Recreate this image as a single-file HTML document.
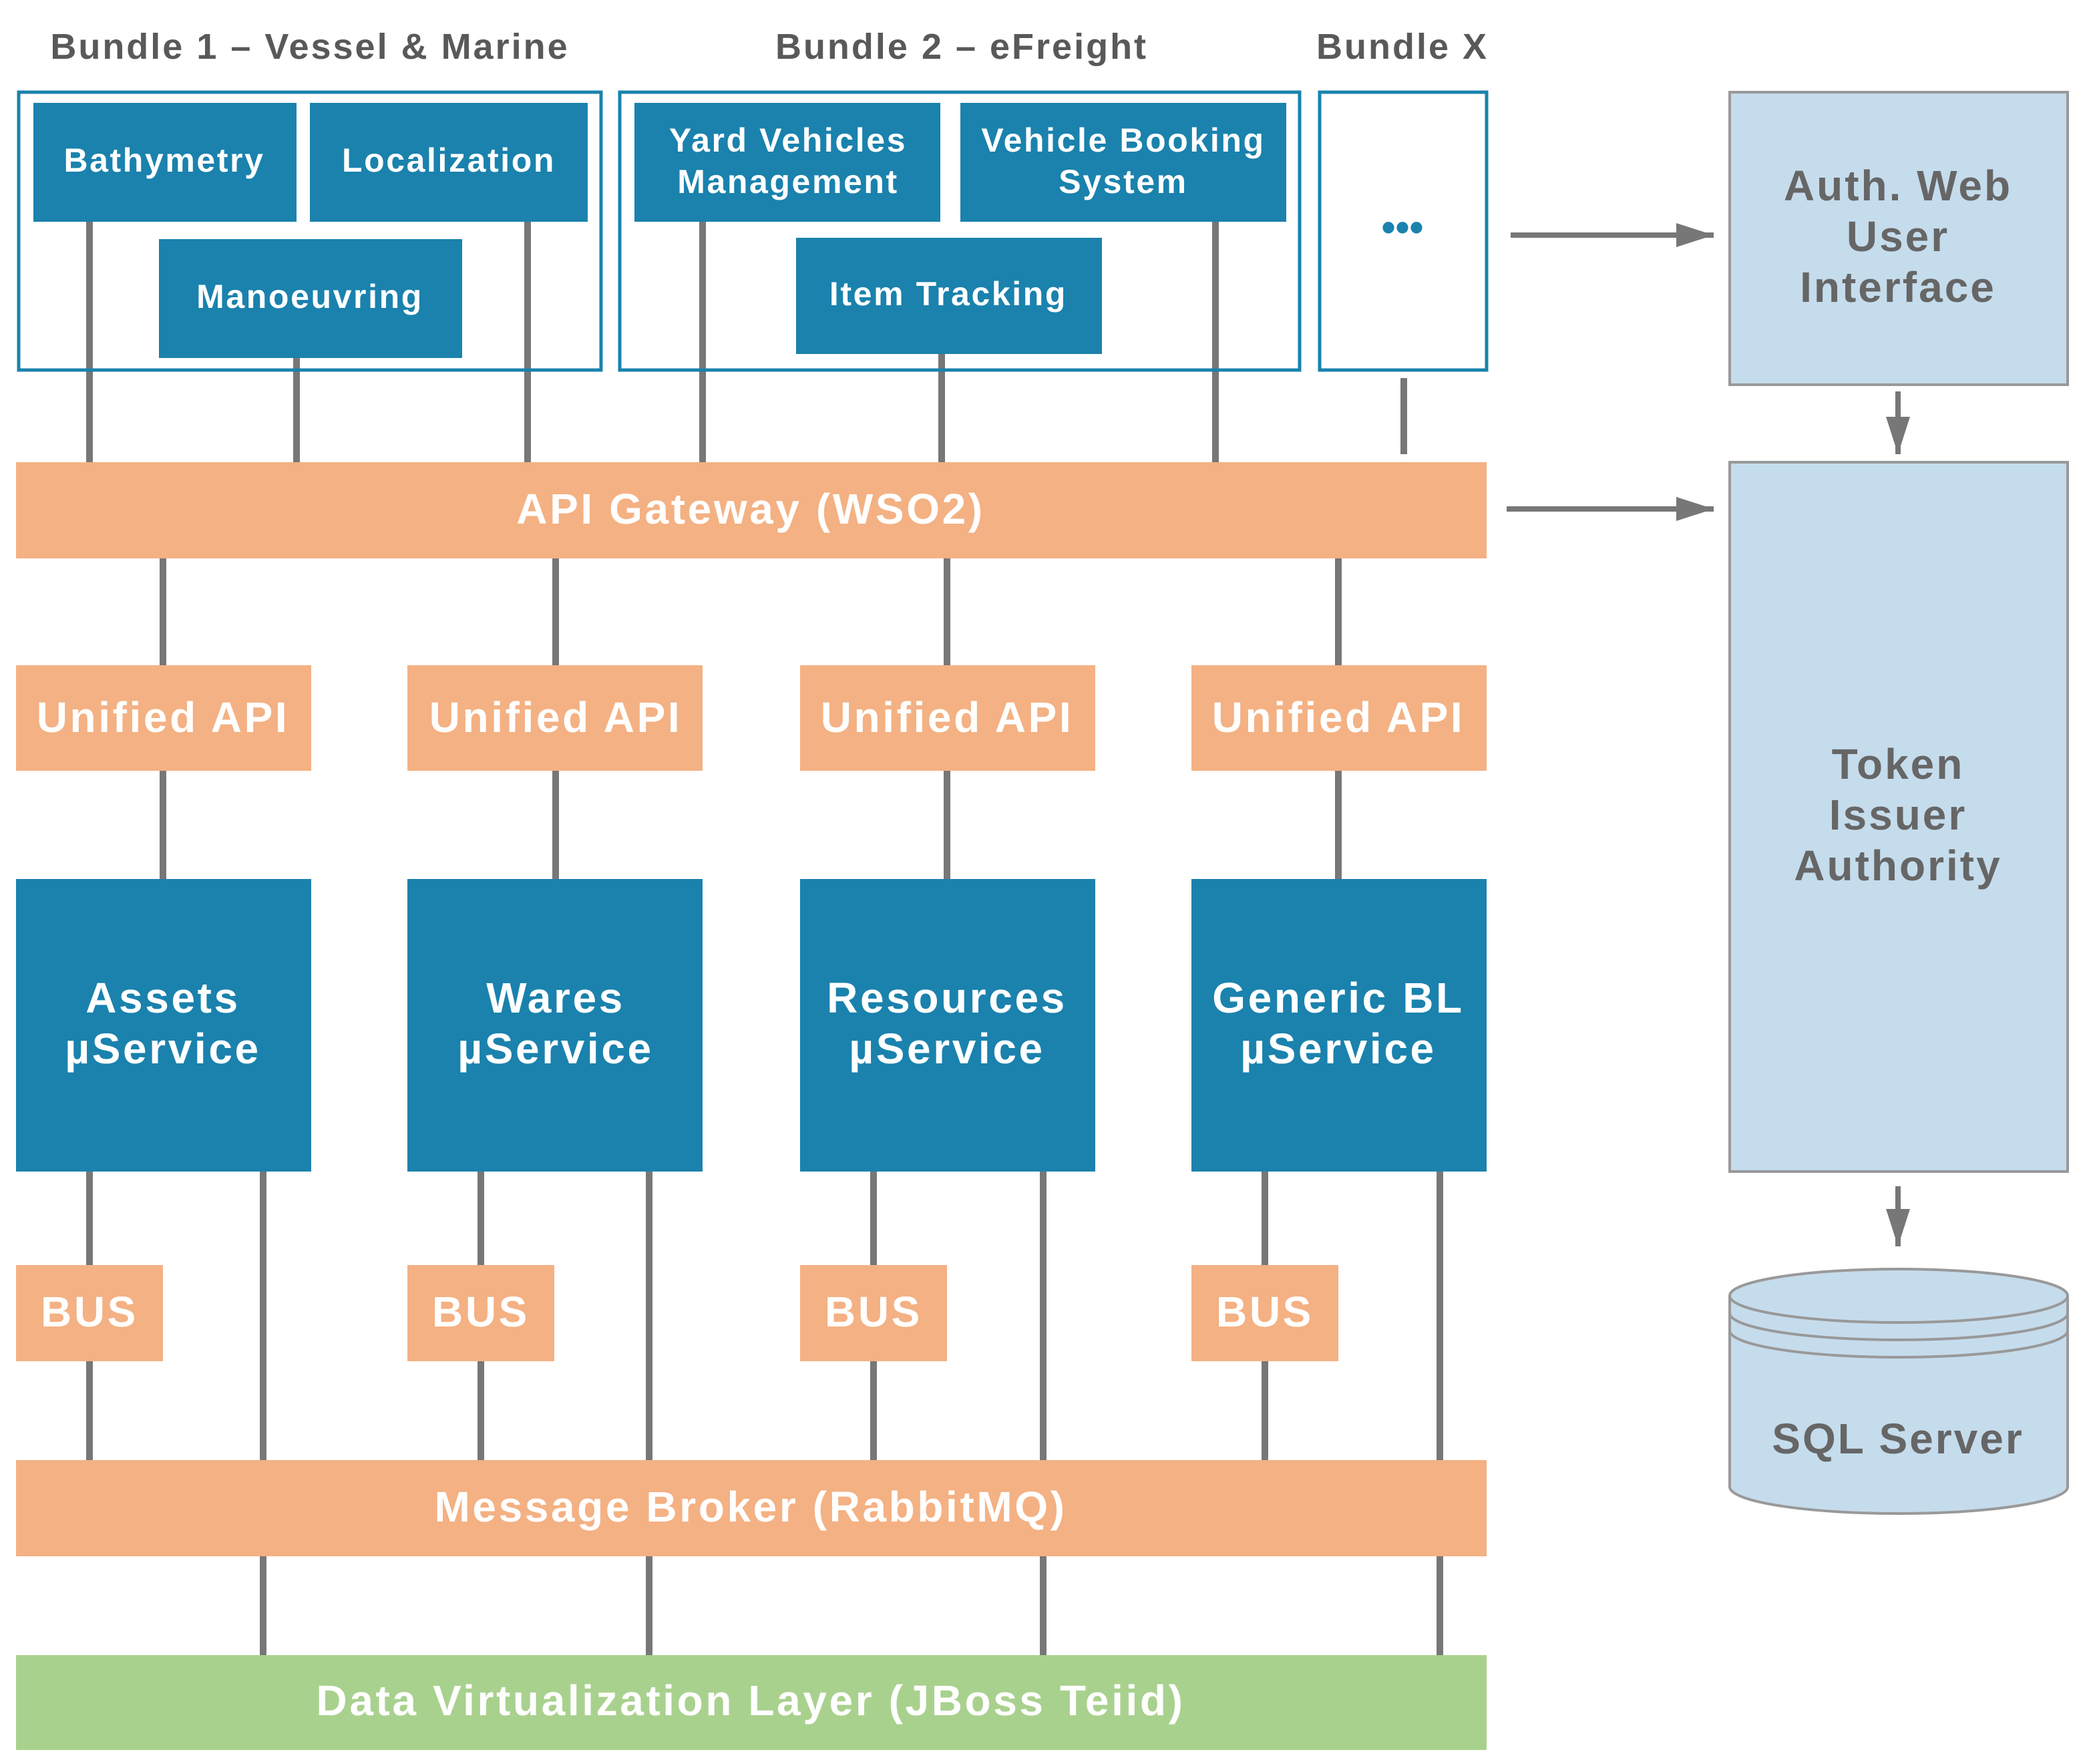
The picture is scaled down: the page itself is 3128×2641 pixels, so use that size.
<!DOCTYPE html>
<html><head><meta charset="utf-8"><style>
html,body{margin:0;padding:0;background:#fff}
svg{display:block}
text{font-family:"Liberation Sans",sans-serif;font-weight:bold;text-anchor:middle;dominant-baseline:central}
</style></head><body>
<svg width="3128" height="2641" viewBox="0 0 1564 1320.5" xmlns="http://www.w3.org/2000/svg">
<defs>
<marker id="ah2" markerWidth="30" markerHeight="20" refX="28" refY="9" orient="auto" markerUnits="userSpaceOnUse"><path d="M0,0 L28,9 L0,18 z" fill="#777"/></marker></defs>
<g fill="#595959" font-size="27" letter-spacing="1.5">
<text x="232" y="35">Bundle 1 – Vessel &amp; Marine</text>
<text x="720" y="35">Bundle 2 – eFreight</text>
<text x="1050" y="35">Bundle X</text>
</g>
<g stroke="#777" stroke-width="5" fill="none">
<line x1="67" y1="160" x2="67" y2="348"/><line x1="222" y1="260" x2="222" y2="348"/><line x1="395" y1="160" x2="395" y2="348"/>
<line x1="526" y1="160" x2="526" y2="348"/><line x1="705" y1="260" x2="705" y2="348"/><line x1="910" y1="160" x2="910" y2="348"/>
<line x1="1051" y1="283" x2="1051" y2="340"/>
<line x1="122" y1="416" x2="122" y2="660"/><line x1="416" y1="416" x2="416" y2="660"/><line x1="709" y1="416" x2="709" y2="660"/><line x1="1002" y1="416" x2="1002" y2="660"/>
<line x1="67" y1="875" x2="67" y2="1095"/><line x1="197" y1="875" x2="197" y2="1241"/>
<line x1="360" y1="875" x2="360" y2="1095"/><line x1="486" y1="875" x2="486" y2="1241"/>
<line x1="654" y1="875" x2="654" y2="1095"/><line x1="781" y1="875" x2="781" y2="1241"/>
<line x1="947" y1="875" x2="947" y2="1095"/><line x1="1078" y1="875" x2="1078" y2="1241"/>
</g>
<g stroke="#777" stroke-width="4" fill="none">
<line x1="1131" y1="176" x2="1283" y2="176" marker-end="url(#ah2)"/>
<line x1="1128" y1="381" x2="1283" y2="381" marker-end="url(#ah2)"/>
<line x1="1421" y1="293" x2="1421" y2="340" marker-end="url(#ah2)"/>
<line x1="1421" y1="888" x2="1421" y2="933" marker-end="url(#ah2)"/>
</g>
<g fill="none" stroke="#1a82ad" stroke-width="2.5">
<rect x="14" y="69" width="436" height="208"/><rect x="464" y="69" width="509" height="208"/><rect x="988" y="69" width="125" height="208"/>
</g>
<g fill="#1a82ad">
<rect x="25" y="77" width="197" height="89"/><rect x="232" y="77" width="208" height="89"/><rect x="119" y="179" width="227" height="89"/>
<rect x="475" y="77" width="229" height="89"/><rect x="719" y="77" width="244" height="89"/><rect x="596" y="178" width="229" height="87"/>
<rect x="12" y="658" width="221" height="219"/><rect x="305" y="658" width="221" height="219"/><rect x="599" y="658" width="221" height="219"/><rect x="892" y="658" width="221" height="219"/>
</g>
<g fill="#fff" font-size="25" letter-spacing="1.3">
<text x="123" y="120">Bathymetry</text><text x="336" y="120">Localization</text><text x="232" y="222">Manoeuvring</text>
<text x="590" y="105">Yard Vehicles</text><text x="590" y="136">Management</text>
<text x="841" y="105">Vehicle Booking</text><text x="841" y="136">System</text>
<text x="710" y="220">Item Tracking</text>
</g>
<text x="1050" y="170" fill="#1a82ad" font-size="30">•••</text>
<g fill="#f4b183">
<rect x="12" y="346" width="1101" height="72"/>
<rect x="12" y="498" width="221" height="79"/><rect x="305" y="498" width="221" height="79"/><rect x="599" y="498" width="221" height="79"/><rect x="892" y="498" width="221" height="79"/>
<rect x="12" y="947" width="110" height="72"/><rect x="305" y="947" width="110" height="72"/><rect x="599" y="947" width="110" height="72"/><rect x="892" y="947" width="110" height="72"/>
<rect x="12" y="1093" width="1101" height="72"/>
</g>
<rect x="12" y="1239" width="1101" height="71" fill="#a9d18e"/>
<g fill="#fff" font-size="32" letter-spacing="1.8">
<text x="562" y="381">API Gateway (WSO2)</text>
<text x="122" y="537">Unified API</text><text x="416" y="537">Unified API</text><text x="709" y="537">Unified API</text><text x="1002" y="537">Unified API</text>
<text x="122" y="747">Assets</text><text x="122" y="785">µService</text>
<text x="416" y="747">Wares</text><text x="416" y="785">µService</text>
<text x="709" y="747">Resources</text><text x="709" y="785">µService</text>
<text x="1002" y="747">Generic BL</text><text x="1002" y="785">µService</text>
<text x="67" y="982">BUS</text><text x="360" y="982">BUS</text><text x="654" y="982">BUS</text><text x="947" y="982">BUS</text>
<text x="562" y="1128">Message Broker (RabbitMQ)</text>
<text x="562" y="1273">Data Virtualization Layer (JBoss Teiid)</text>
</g>
<g fill="#c5dcec" stroke="#999" stroke-width="2">
<rect x="1295" y="69" width="253" height="219"/>
<rect x="1295" y="346" width="253" height="531"/>
<path d="M1295,970 L1295,1113 A126.5,20 0 0 0 1548,1113 L1548,970"/>
<ellipse cx="1421.5" cy="970" rx="126.5" ry="20"/>
<path d="M1295,983 A126.5,20 0 0 0 1548,983" fill="none"/>
<path d="M1295,996 A126.5,20 0 0 0 1548,996" fill="none"/>
</g>
<g fill="#666" font-size="32" letter-spacing="1.5">
<text x="1421" y="139">Auth. Web</text><text x="1421" y="177">User</text><text x="1421" y="215">Interface</text>
<text x="1421" y="572">Token</text><text x="1421" y="610">Issuer</text><text x="1421" y="648">Authority</text>
<text x="1421" y="1077">SQL Server</text>
</g>
</svg>
</body></html>
